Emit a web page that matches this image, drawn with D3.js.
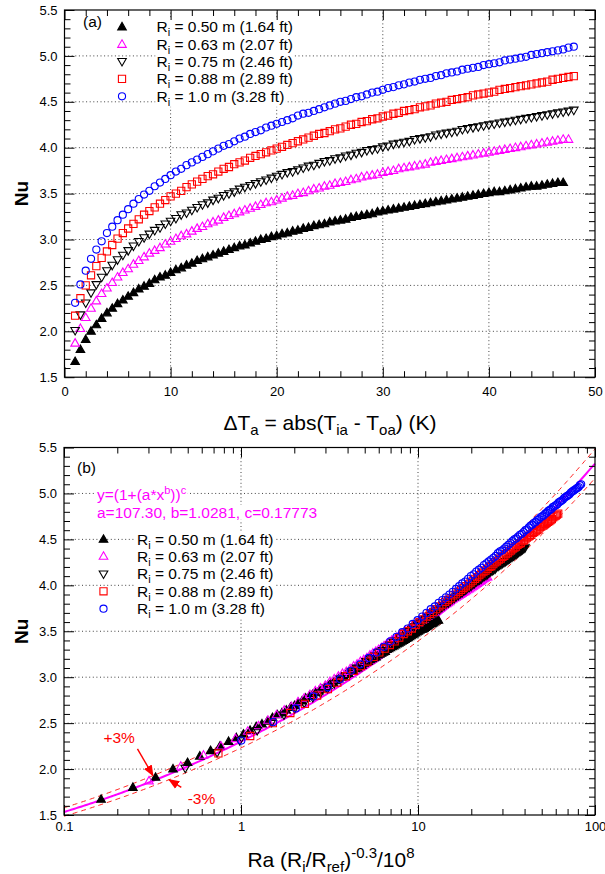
<!DOCTYPE html>
<html><head><meta charset="utf-8">
<script src="https://cdn.jsdelivr.net/npm/d3@7"></script>
<style>body{margin:0;background:#fff}svg text{font-family:"Liberation Sans",Arial,sans-serif}</style>
</head><body><svg id="c" width="605" height="874"></svg>
<script>
// ---------------- data ----------------
const dT = [1.0,1.5,2.0,2.5,3.0,3.5,4.0,4.5,5.0,5.5,6.0,6.5,7.0,7.5,8.0,8.5,9.0,9.5,10.0,
10.5,11.0,11.5,12.0,12.5,13.0,13.5,14.0,14.5,15.0,15.5,16.0,16.5,17.0,17.5,18.0,18.5,19.0,19.5,20.0,
20.5,21.0,21.5,22.0,22.5,23.0,23.5,24.0,24.5,25.0,25.5,26.0,26.5,27.0,27.5,28.0,28.5,29.0,29.5,30.0,
30.5,31.0,31.5,32.0,32.5,33.0,33.5,34.0,34.5,35.0,35.5,36.0,36.5,37.0,37.5,38.0,38.5,39.0,39.5,40.0,
40.5,41.0,41.5,42.0,42.5,43.0,43.5,44.0,44.5,45.0,45.5,46.0,46.5,47.0,47.5,48.0];

const nuR050 = [1.67,1.80,1.91,2.00,2.07,2.14,2.20,2.25,2.30,2.34,2.38,2.42,2.46,2.49,2.52,2.56,2.59,2.61,2.64,
2.67,2.69,2.72,2.74,2.77,2.79,2.81,2.83,2.85,2.87,2.89,2.91,2.93,2.94,2.96,2.98,3.00,3.01,3.03,3.04,
3.06,3.07,3.09,3.10,3.12,3.13,3.15,3.16,3.17,3.19,3.20,3.21,3.22,3.24,3.25,3.26,3.27,3.28,3.30,3.31,
3.32,3.33,3.34,3.35,3.36,3.37,3.38,3.39,3.40,3.41,3.42,3.43,3.44,3.45,3.46,3.47,3.48,3.49,3.50,3.51,
3.52,3.52,3.53,3.54,3.55,3.56,3.57,3.58,3.58,3.59,3.60,3.61,3.62,3.62];

const nuR063 = [1.87,2.03,2.15,2.25,2.33,2.41,2.47,2.53,2.59,2.64,2.68,2.73,2.77,2.81,2.85,2.88,2.91,2.95,2.98,
3.01,3.04,3.06,3.09,3.12,3.14,3.17,3.19,3.21,3.24,3.26,3.28,3.30,3.32,3.34,3.36,3.38,3.40,3.41,3.43,
3.45,3.47,3.48,3.50,3.51,3.53,3.55,3.56,3.58,3.59,3.61,3.62,3.63,3.65,3.66,3.68,3.69,3.70,3.71,3.73,
3.74,3.75,3.77,3.78,3.79,3.80,3.81,3.82,3.84,3.85,3.86,3.87,3.88,3.89,3.90,3.91,3.92,3.93,3.94,3.95,
3.96,3.97,3.98,3.99,4.00,4.01,4.02,4.03,4.04,4.05,4.06,4.07,4.08,4.09,4.09];

const nuR075 = [2.01,2.18,2.31,2.42,2.51,2.59,2.66,2.72,2.78,2.83,2.88,2.93,2.98,3.02,3.06,3.10,3.13,3.17,3.20,
3.23,3.27,3.29,3.32,3.35,3.38,3.40,3.43,3.45,3.48,3.50,3.52,3.55,3.57,3.59,3.61,3.63,3.65,3.67,3.69,
3.71,3.73,3.74,3.76,3.78,3.80,3.81,3.83,3.85,3.86,3.88,3.89,3.91,3.92,3.94,3.95,3.97,3.98,3.99,4.01,
4.02,4.04,4.05,4.06,4.07,4.09,4.10,4.11,4.12,4.14,4.15,4.16,4.17,4.18,4.20,4.21,4.22,4.23,4.24,4.25,
4.26,4.27,4.28,4.29,4.30,4.31,4.32,4.33,4.34,4.35,4.36,4.37,4.38,4.39,4.40,4.41];

const nuR088 = [2.17,2.36,2.50,2.61,2.71,2.80,2.87,2.94,3.01,3.07,3.12,3.17,3.22,3.27,3.31,3.35,3.39,3.43,3.47,
3.50,3.53,3.57,3.60,3.63,3.66,3.69,3.71,3.74,3.77,3.79,3.82,3.84,3.86,3.89,3.91,3.93,3.95,3.97,3.99,
4.01,4.03,4.05,4.07,4.09,4.11,4.13,4.15,4.16,4.18,4.20,4.21,4.23,4.25,4.26,4.28,4.29,4.31,4.32,4.34,
4.35,4.37,4.38,4.40,4.41,4.42,4.44,4.45,4.46,4.48,4.49,4.50,4.52,4.53,4.54,4.55,4.57,4.58,4.59,4.60,
4.61,4.63,4.64,4.65,4.66,4.67,4.68,4.69,4.70,4.71,4.72,4.74,4.75,4.76,4.77,4.78];

const nuR100 = [2.31,2.51,2.66,2.79,2.89,2.98,3.07,3.14,3.21,3.27,3.33,3.39,3.44,3.49,3.53,3.58,3.62,3.66,3.70,
3.74,3.77,3.81,3.84,3.87,3.90,3.93,3.96,3.99,4.02,4.04,4.07,4.10,4.12,4.15,4.17,4.19,4.22,4.24,4.26,
4.28,4.30,4.32,4.35,4.37,4.38,4.40,4.42,4.44,4.46,4.48,4.50,4.51,4.53,4.55,4.56,4.58,4.60,4.61,4.63,
4.65,4.66,4.68,4.69,4.71,4.72,4.74,4.75,4.76,4.78,4.79,4.81,4.82,4.83,4.85,4.86,4.87,4.88,4.90,4.91,
4.92,4.93,4.95,4.96,4.97,4.98,4.99,5.01,5.02,5.03,5.04,5.05,5.06,5.07,5.09,5.10];

// Ra (Ri/Rref)^-0.3 / 1e8 for Ri = 0.50 m at each dT
const raBase = [0.162,0.245,0.329,0.413,0.499,0.585,0.673,0.761,0.851,0.941,1.033,1.125,1.219,1.314,1.409,1.506,1.604,1.703,1.803,
1.904,2.007,2.110,2.215,2.320,2.427,2.535,2.645,2.755,2.867,2.980,3.094,3.209,3.326,3.443,3.562,3.683,3.804,3.927,4.051,
4.177,4.304,4.432,4.562,4.692,4.825,4.958,5.093,5.230,5.368,5.507,5.648,5.790,5.934,6.079,6.226,6.374,6.523,6.675,6.827,
6.982,7.138,7.295,7.454,7.615,7.777,7.941,8.106,8.274,8.443,8.613,8.785,8.959,9.135,9.313,9.492,9.673,9.856,10.04,10.23,
10.42,10.61,10.80,10.99,11.19,11.38,11.58,11.79,11.99,12.19,12.40,12.61,12.82,13.04,13.25,13.47];
// multiplier of raBase for each radius
const raFactor = [1.000,1.866,2.989,4.601,6.20];

const seriesNu = [nuR050,nuR063,nuR075,nuR088,nuR100];
const seriesLabel = ['0.50 m (1.64 ft)','0.63 m (2.07 ft)','0.75 m (2.46 ft)','0.88 m (2.89 ft)','1.0 m (3.28 ft)'];

// fit y=(1+(a*x^b))^c
const fitA = 107.30, fitB = 1.0281, fitC = 0.17773;
const bandFactors = [1.03, 0.97];

const xTicksTop = [0,10,20,30,40,50];
const xMinorTop = [2,4,6,8,12,14,16,18,22,24,26,28,32,34,36,38,42,44,46,48];
const yTicks = [1.5,2.0,2.5,3.0,3.5,4.0,4.5,5.0,5.5];
const yMinor = [1.6,1.7,1.8,1.9,2.1,2.2,2.3,2.4,2.6,2.7,2.8,2.9,3.1,3.2,3.3,3.4,3.6,3.7,3.8,3.9,4.1,4.2,4.3,4.4,4.6,4.7,4.8,4.9,5.1,5.2,5.3,5.4];
const xTicksBot = [0.1,1,10,100];
const xMinorBot = [0.2,0.3,0.4,0.5,0.6,0.7,0.8,0.9,2,3,4,5,6,7,8,9,20,30,40,50,60,70,80,90];

// ---------------- styles ----------------
const seriesColor = ['#000000','#ff00ff','#000000','#ff0000','#0000ff'];
const seriesShape = ['up','up','down','square','circle'];
const seriesFill = [true,false,false,false,false];
const shapePath = {
  up: 'M0,-4.6L4.3,2.9L-4.3,2.9Z',
  down: 'M0,4.6L4.3,-2.9L-4.3,-2.9Z',
  square: 'M-3.6,-3.6H3.6V3.6H-3.6Z',
  circle: d3.symbol(d3.symbolCircle, 40)()
};
const FONT = '"Liberation Sans",Arial,sans-serif';

const svg = d3.select('#c');

const xTop = d3.scaleLinear().domain([0,50]).range([64.5,595]);
const yTop = d3.scaleLinear().domain([1.5,5.5]).range([377.2,10]);
const xBot = d3.scaleLog().domain([0.1,100]).range([64,595]);
const yBot = d3.scaleLinear().domain([1.5,5.5]).range([815,447.5]);

function grid(g, x, y, xs, ys){
  const [ya,yb] = y.range(), [xa,xb] = x.range();
  g.selectAll(null).data(xs).join('line')
    .attr('x1',d=>x(d)).attr('x2',d=>x(d)).attr('y1',ya).attr('y2',yb)
    .attr('stroke','#444').attr('stroke-width',1).attr('stroke-dasharray','1,2.6');
  g.selectAll(null).data(ys).join('line')
    .attr('y1',d=>y(d)).attr('y2',d=>y(d)).attr('x1',xa).attr('x2',xb)
    .attr('stroke','#444').attr('stroke-width',1).attr('stroke-dasharray','1,2.6');
}

function axes(g, x, y, xMaj, xMin, xFmt, xPad){
  const [ya,yb] = y.range(), [xa,xb] = x.range();
  const mk = (axis, tr) => g.append('g').attr('transform',tr).call(axis).call(s=>s.select('.domain').remove());
  mk(d3.axisBottom(x).tickValues(xMaj).tickSize(-10).tickPadding(xPad).tickFormat(xFmt), `translate(0,${ya})`);
  mk(d3.axisBottom(x).tickValues(xMin).tickSize(-6).tickFormat(''), `translate(0,${ya})`);
  mk(d3.axisTop(x).tickValues(xMaj).tickSize(-10).tickFormat(''), `translate(0,${yb})`);
  mk(d3.axisTop(x).tickValues(xMin).tickSize(-6).tickFormat(''), `translate(0,${yb})`);
  mk(d3.axisLeft(y).tickValues(yTicks).tickSize(-10).tickPadding(7).tickFormat(d3.format('.1f')), `translate(${xa},0)`);
  mk(d3.axisLeft(y).tickValues(yMinor).tickSize(-6).tickFormat(''), `translate(${xa},0)`);
  mk(d3.axisRight(y).tickValues(yTicks).tickSize(-10).tickFormat(''), `translate(${xb},0)`);
  mk(d3.axisRight(y).tickValues(yMinor).tickSize(-6).tickFormat(''), `translate(${xb},0)`);
  g.selectAll('.tick line').attr('stroke','#000').attr('stroke-width',1);
  g.selectAll('.tick text').attr('font-size',13).attr('font-family',FONT).attr('fill','#000');
  g.append('rect').attr('x',xa).attr('y',yb).attr('width',xb-xa).attr('height',ya-yb)
    .attr('fill','none').attr('stroke','#000').attr('stroke-width',1.2);
}

function drawMarkers(g, pts, s){
  g.selectAll(null).data(pts).join('path')
    .attr('d', shapePath[seriesShape[s]])
    .attr('transform', d => `translate(${d[0]},${d[1]})`)
    .attr('fill', seriesFill[s] ? seriesColor[s] : 'none')
    .attr('stroke', seriesColor[s]).attr('stroke-width',1.1);
}

function withBg(bgG, t){
  const b = t.node().getBBox();
  bgG.append('rect').attr('x',b.x-1).attr('y',b.y+1).attr('width',b.width+2).attr('height',b.height-2).attr('fill','#fff');
}

function rText(g, x, y, label){
  const t = g.append('text').attr('x',x).attr('y',y).attr('font-size',15.5).attr('font-family',FONT).attr('fill','#000');
  t.append('tspan').text('R');
  t.append('tspan').attr('font-size',11).attr('dy',4).text('i');
  t.append('tspan').attr('dy',-4).text(' = ' + label);
  return t;
}

// ================= TOP PANEL =================
const gT = svg.append('g');
grid(gT, xTop, yTop, [10,20,30,40], [2.0,2.5,3.0,3.5,4.0,4.5,5.0]);
const legBgT = gT.append('g');
seriesNu.forEach((nu, s) => {
  const pts = nu.map((v,i) => [xTop(dT[i]), yTop(v)]);
  drawMarkers(gT.append('g'), pts, s);
});
axes(gT, xTop, yTop, xTicksTop, xMinorTop, d3.format('d'), 9.5);

const legT = gT.append('g');
legT.append('text').attr('x',83).attr('y',yTop(5.31)).attr('font-size',15.5).attr('font-family',FONT).text('(a)');
const legRowsT = [5.315,5.125,4.94,4.75,4.56];
seriesLabel.forEach((lab,s) => {
  const yy = yTop(legRowsT[s]);
  drawMarkers(legT.append('g'), [[122, yy]], s);
  const t = rText(legT, 156.5, yy+5.5, lab);
  withBg(legBgT, t);
});

// axis titles top
const tt = svg.append('text').attr('x',330).attr('y',430).attr('text-anchor','middle')
  .attr('font-size',21).attr('font-family',FONT);
tt.append('tspan').text('\u0394T');
tt.append('tspan').attr('font-size',15).attr('dy',5).text('a');
tt.append('tspan').attr('dy',-5).text(' = abs(T');
tt.append('tspan').attr('font-size',15).attr('dy',5).text('ia');
tt.append('tspan').attr('dy',-5).text(' - T');
tt.append('tspan').attr('font-size',15).attr('dy',5).text('oa');
tt.append('tspan').attr('dy',-5).text(') (K)');

svg.append('text').attr('transform',`translate(28,${(yTop(1.5)+yTop(5.5))/2}) rotate(-90)`)
  .attr('text-anchor','middle').attr('font-size',19).attr('font-weight','bold').attr('font-family',FONT).text('Nu');
svg.append('text').attr('transform',`translate(28,${(yBot(1.5)+yBot(5.5))/2}) rotate(-90)`)
  .attr('text-anchor','middle').attr('font-size',19).attr('font-weight','bold').attr('font-family',FONT).text('Nu');

// ================= BOTTOM PANEL =================
const gB = svg.append('g');
grid(gB, xBot, yBot, [1,10], [2.0,2.5,3.0,3.5,4.0,4.5,5.0]);
const legBgB = gB.append('g');

const fitXs = d3.range(0,301).map(i => Math.pow(10, -1 + i/100));
const fitY = x => Math.pow(1 + fitA*Math.pow(x,fitB), fitC);
bandFactors.forEach(f => {
  gB.append('path').datum(fitXs)
    .attr('d', d3.line().x(d=>xBot(d)).y(d=>yBot(fitY(d)*f)))
    .attr('fill','none').attr('stroke','#ff2020').attr('stroke-width',1).attr('stroke-dasharray','5,4');
});
gB.append('path').datum(fitXs)
  .attr('d', d3.line().x(d=>xBot(d)).y(d=>yBot(fitY(d))))
  .attr('fill','none').attr('stroke','#ff00ff').attr('stroke-width',2);

seriesNu.forEach((nu, s) => {
  const pts = nu.map((v,i) => [xBot(raBase[i]*raFactor[s]), yBot(v)]);
  drawMarkers(gB.append('g'), pts, s);
});
axes(gB, xBot, yBot, xTicksBot, xMinorBot, d => d3.format('~g')(d), 6.5);

// annotations (+3% / -3%)
const annColor = '#ff0000';
const defs = svg.append('defs');
defs.append('marker').attr('id','ah').attr('viewBox','0 0 10 10').attr('refX',9).attr('refY',5)
  .attr('markerWidth',8).attr('markerHeight',8).attr('orient','auto')
  .append('path').attr('d','M0,1L10,5L0,9Z').attr('fill',annColor);
const annPlus = {text:[0.205, 2.34], from:[0.26, 2.22], to:[0.318, 1.93]};
const annMinus = {text:[0.50, 1.685], from:[0.46, 1.80], to:[0.392, 1.885]};
[annPlus, annMinus].forEach((a,i) => {
  gB.append('line').attr('x1',xBot(a.from[0])).attr('y1',yBot(a.from[1]))
    .attr('x2',xBot(a.to[0])).attr('y2',yBot(a.to[1]))
    .attr('stroke',annColor).attr('stroke-width',1.4).attr('marker-end','url(#ah)');
  gB.append('text').attr('x',xBot(a.text[0])).attr('y',yBot(a.text[1])+5.5)
    .attr('text-anchor', i===0 ? 'middle' : 'start')
    .attr('font-size',15.5).attr('font-family',FONT).attr('fill',annColor).text(i===0 ? '+3%' : '-3%');
});

const legB = gB.append('g');
legB.append('text').attr('x',77).attr('y',yBot(5.28)+5.5).attr('font-size',15.5).attr('font-family',FONT).text('(b)');
const eq1 = legB.append('text').attr('x',97).attr('y',yBot(4.99)+5.5).attr('font-size',15.5).attr('font-family',FONT).attr('fill','#ff00ff');
eq1.append('tspan').text('y=(1+(a*x');
eq1.append('tspan').attr('font-size',11).attr('dy',-6).text('b');
eq1.append('tspan').attr('dy',6).text('))');
eq1.append('tspan').attr('font-size',11).attr('dy',-6).text('c');
withBg(legBgB, eq1);
const eq2 = legB.append('text').attr('x',97).attr('y',yBot(4.795)+5.5).attr('font-size',15.5).attr('font-family',FONT).attr('fill','#ff00ff')
  .text(`a=${fitA.toFixed(2)}, b=${fitB}, c=${fitC}`);
withBg(legBgB, eq2);
const legRowsB = [4.50,4.315,4.125,3.935,3.745];
seriesLabel.forEach((lab,s) => {
  const yy = yBot(legRowsB[s]);
  drawMarkers(legB.append('g'), [[103.5, yy]], s);
  const t = rText(legB, 137, yy+5.5, lab);
  withBg(legBgB, t);
});

const bt = svg.append('text').attr('x',331).attr('y',867).attr('text-anchor','middle')
  .attr('font-size',21).attr('font-family',FONT);
bt.append('tspan').text('Ra (R');
bt.append('tspan').attr('font-size',15).attr('dy',5).text('i');
bt.append('tspan').attr('dy',-5).text('/R');
bt.append('tspan').attr('font-size',15).attr('dy',5).text('ref');
bt.append('tspan').attr('dy',-5).text(')');
bt.append('tspan').attr('font-size',15).attr('dy',-9).text('-0.3');
bt.append('tspan').attr('dy',9).text('/10');
bt.append('tspan').attr('font-size',15).attr('dy',-9).text('8');
</script></body></html>
